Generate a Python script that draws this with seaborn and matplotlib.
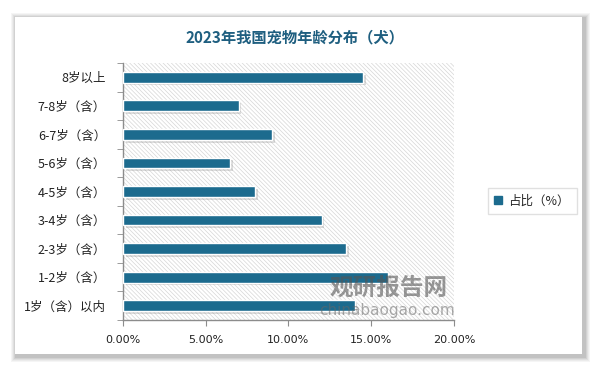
import pandas as pd
import matplotlib.pyplot as plt
import matplotlib.patheffects as pe
from matplotlib.patches import Rectangle
from matplotlib.ticker import PercentFormatter, FixedLocator
import seaborn as sns

# data (top to bottom as in the chart)
ages = ['8岁以上', '7-8岁（含）', '6-7岁（含）', '5-6岁（含）', '4-5岁（含）',
        '3-4岁（含）', '2-3岁（含）', '1-2岁（含）', '1岁（含）以内']
share = [14.5, 7.0, 9.0, 6.5, 8.0, 12.0, 13.5, 16.0, 14.0]
series_name = '占比（%）'
title = '2023年我国宠物年龄分布（犬）'

df = pd.DataFrame({'age': ages, 'share': share, 'series': series_name})

sns.set_style('white')
plt.rcParams['font.family'] = ['Noto Sans CJK SC', 'DejaVu Sans']
plt.rcParams['hatch.linewidth'] = 0.5

bar_color = '#1c6b8e'
W, H = 595, 368
fig = plt.figure(figsize=(W / 100, H / 100), dpi=100)
fig.patch.set_facecolor('white')

# card with soft shadow
for i, a in enumerate([0.04, 0.04, 0.05, 0.06, 0.07]):
    g = 6 - i
    fig.patches.append(Rectangle(((15 - g + 2) / W, 1 - (354 + g + 2) / H),
                                 (567 + 2 * g) / W, (337 + 2 * g) / H,
                                 transform=fig.transFigure, facecolor='black',
                                 alpha=a, lw=0, zorder=0))
fig.patches.append(Rectangle((15 / W, 1 - 354 / H), 567 / W, 337 / H,
                             transform=fig.transFigure, facecolor='white',
                             lw=0, zorder=1))

ax = fig.add_axes([122.8 / W, 1 - 320 / H, (454 - 122.8) / W, (320 - 63) / H])
ax.set_zorder(2)
ax.patch.set_alpha(0)
ax.add_patch(Rectangle((0, 0), 1, 1, transform=ax.transAxes, facecolor='white',
                       edgecolor='#d6d6d6', lw=0, hatch='\\\\\\\\\\\\\\\\', zorder=0))

sns.barplot(data=df, y='age', x='share', hue='series', palette=[bar_color],
            saturation=1, orient='h', width=0.38, edgecolor='white', linewidth=1,
            ax=ax, zorder=3)
for p in ax.patches[1:]:
    p.set_path_effects([pe.SimplePatchShadow(offset=(2, -2), shadow_rgbFace='#777777',
                                             alpha=0.25), pe.Normal()])

ax.set_xlim(0, 20)
ax.set_ylim(8.5, -0.5)
ax.set_xticks([0, 5, 10, 15, 20])
ax.xaxis.set_major_formatter(PercentFormatter(100, decimals=2))
ax.set_xlabel('')
ax.set_ylabel('')

for s in ['top', 'right']:
    ax.spines[s].set_visible(False)
for s in ['left', 'bottom']:
    ax.spines[s].set_color('#8c8c8c')
    ax.spines[s].set_linewidth(1)

ax.tick_params(axis='x', which='major', direction='out', length=4, color='#8c8c8c',
               labelsize=8, pad=7, bottom=True)
ax.tick_params(axis='y', which='major', length=0, labelsize=9, pad=12)
ax.yaxis.set_minor_locator(FixedLocator([i - 0.5 for i in range(len(ages) + 1)]))
ax.tick_params(axis='y', which='minor', direction='out', length=4, color='#8c8c8c', left=True)
for lbl in ax.get_xticklabels():
    lbl.set_fontfamily('DejaVu Sans')
    lbl.set_color('#222222')
for lbl in ax.get_yticklabels():
    lbl.set_color('#222222')

leg = ax.legend(loc='center', bbox_to_anchor=(532 / W, 1 - 201 / H),
                bbox_transform=fig.transFigure, frameon=True, fancybox=False,
                edgecolor='#d9d9d9', fontsize=9, handlelength=0.6, handleheight=0.6,
                handletextpad=0.5, borderpad=0.55)
for h in leg.get_patches():
    h.set_path_effects([])
    h.set_edgecolor(bar_color)

fig.text(295 / W, 1 - 37 / H, title, ha='center', va='center', fontsize=11,
         fontweight='bold', color='#1f5f80', zorder=5)

# watermark
fig.text(389 / W, 1 - 288 / H, '观研报告网', ha='center', va='center', fontsize=17,
         fontweight='black', color='#555555', alpha=0.6, zorder=6)
fig.text(387 / W, 1 - 311 / H, 'chinabaogao.com', ha='center', va='center', fontsize=11,
         family='DejaVu Sans', color='#666666', alpha=0.55, zorder=6)

fig.savefig('out.png', dpi=100, facecolor='white')
